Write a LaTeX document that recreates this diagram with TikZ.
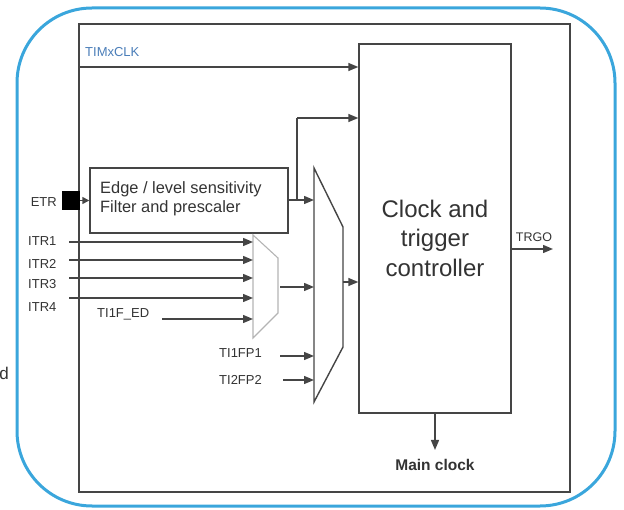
\documentclass[tikz,border=0pt]{standalone}
\usepackage{fontspec}
\setmainfont{Liberation Sans}
\usetikzlibrary{arrows.meta}
\definecolor{frameblue}{HTML}{3AA6DC}
\definecolor{linegray}{HTML}{454545}
\definecolor{txtgray}{HTML}{333333}
\definecolor{muxgray}{HTML}{B4B4B4}
\definecolor{clkblue}{HTML}{4A7DB8}
\begin{document}
\begin{tikzpicture}[x=1pt,y=-1pt,
  wire/.style={draw=linegray, line width=1.4pt},
  arr/.style={wire, -{Triangle[length=10pt,width=8pt]}},
  sarr/.style={wire, -{Triangle[length=7pt,width=7pt]}},
  box/.style={draw=linegray, line width=1.4pt, fill=white, inner sep=0pt},
  lbl/.style={text=txtgray, font=\fontsize{13}{15}\selectfont, inner sep=0pt},
]
\useasboundingbox (0,0) rectangle (624,510);
\draw[frameblue, line width=3pt, rounded corners=75pt] (17,8) rectangle (615,506);
\node[text=txtgray, font=\fontsize{17}{20}\selectfont, anchor=base east, inner sep=0pt] (dfrag) at (9,380) {d};

% inner frame
\node[draw=linegray, line width=1.5pt, minimum width=491pt, minimum height=468pt, inner sep=0pt] (frame) at (324.5,258) {};

% controller
\node[box, minimum width=152pt, minimum height=369pt] (ctrl) at (435,228.5) {};
\node[text=txtgray, font=\fontsize{24}{29.5}\selectfont, align=center, inner sep=0pt] (ctrltxt) at (435,238) {Clock and\\trigger\\controller};

% edge / filter box
\node[box, minimum width=198pt, minimum height=65pt] (edge) at (189,200.5) {};
\node[anchor=west, text=txtgray, font=\fontsize{16.4}{19.5}\selectfont, align=left, inner sep=0pt] (edgetxt) at (100,199) {Edge / level sensitivity\\Filter and prescaler};

% ETR
\node[fill=black, minimum width=18pt, minimum height=19pt, inner sep=0pt] (etrsq) at (71,200.5) {};
\node[lbl, anchor=base east] (etr) at (57,207) {ETR};
\draw[sarr] (etrsq.east) -- (edge.west |- etrsq.east);

% TIMxCLK
\node[lbl, text=clkblue, anchor=base west] (timx) at (85,57) {TIMxCLK};
\coordinate (clkS) at (frame.west |- 0,67);
\draw[arr] (clkS) -- (ctrl.west |- clkS);

% big mux
\coordinate (bm1) at (314,168);
\coordinate (bm2) at (343,227);
\coordinate (bm3) at (343,347);
\coordinate (bm4) at (314,402);
\draw[wire, line join=miter] (bm1) -- (bm2) -- (bm3) -- (bm4) -- cycle;

% small mux
\coordinate (sm1) at (253,235);
\coordinate (sm2) at (278,258);
\coordinate (sm3) at (278,313);
\coordinate (sm4) at (253,338);
\draw[muxgray, line width=1.1pt, line join=miter] (sm1) -- (sm2) -- (sm3) -- (sm4) -- cycle;

% edge box outputs
\coordinate (eo) at (edge.east |- 0,200);
\coordinate (br) at (297,200);
\coordinate (bu) at (297,118);
\draw[arr] (eo) -- (bm1 |- eo);
\draw[wire] (br) -- (bu);
\draw[arr] (bu) -- (ctrl.west |- bu);

% ITR inputs
\node[lbl, anchor=base west] (itr1) at (28,246) {ITR1};
\node[lbl, anchor=base west] (itr2) at (28,269) {ITR2};
\node[lbl, anchor=base west] (itr3) at (28,289) {ITR3};
\node[lbl, anchor=base west] (itr4) at (28,312) {ITR4};
\node[lbl, anchor=base west] (ti1fed) at (97,318) {TI1F\_ED};
\coordinate (i1) at (69,242);
\coordinate (i2) at (69,260);
\coordinate (i3) at (69,278);
\coordinate (i4) at (69,298);
\coordinate (i5) at (162,319);
\draw[arr] (i1) -- (sm1 |- i1);
\draw[arr] (i2) -- (sm1 |- i2);
\draw[arr] (i3) -- (sm1 |- i3);
\draw[arr] (i4) -- (sm1 |- i4);
\draw[arr] (i5) -- (sm1 |- i5);

% small mux output
\coordinate (so) at (280,287);
\draw[arr] (so) -- (bm1 |- so);

% TI1FP1 / TI2FP2
\node[lbl, anchor=base west] (tifp1) at (219,358) {TI1FP1};
\node[lbl, anchor=base west] (tifp2) at (219,385) {TI2FP2};
\coordinate (f1) at (280,356);
\coordinate (f2) at (283,380);
\draw[arr] (f1) -- (bm1 |- f1);
\draw[arr] (f2) -- (bm1 |- f2);

% big mux output
\coordinate (bo) at (343,282);
\draw[arr] (bo) -- (ctrl.west |- bo);

% TRGO
\coordinate (trgo) at (553,249);
\draw[arr] (ctrl.east |- trgo) -- (trgo);
\node[lbl, font=\fontsize{12.5}{14}\selectfont, anchor=base] (trgolbl) at (534,242) {TRGO};

% main clock
\node[text=txtgray, font=\fontsize{15.5}{18}\selectfont\bfseries, anchor=base, inner sep=0pt] (mainclk) at (435,471) {Main clock};
\coordinate (mc) at (435,450);
\draw[arr] (ctrl.south) -- (mc);
\end{tikzpicture}
\end{document}
